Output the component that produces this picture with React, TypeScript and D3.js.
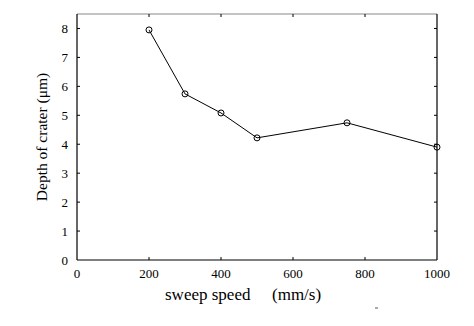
import React from "react";
import * as d3 from "d3";

const speeds = [200, 300, 400, 500, 750, 1000];
const depths = [7.95, 5.74, 5.08, 4.22, 4.74, 3.9];
const xTicks = [0, 200, 400, 600, 800, 1000];
const yTicks = [0, 1, 2, 3, 4, 5, 6, 7, 8];

const W = 474, H = 326;
const L = 77, R = 437, T = 14, B = 260;

export default function App() {
  const x = d3.scaleLinear().domain([0, 1000]).range([L, R]);
  const y = d3.scaleLinear().domain([0, 8.5]).range([B, T]);
  const line = d3.line<number>().x((_, i) => x(speeds[i])).y((d) => y(d));
  const fs = { fontFamily: "Liberation Serif, serif" };
  return (
    <svg width={W} height={H} style={{ position: "absolute", left: 0, top: 0, background: "#fff" }}>
      <rect x={0} y={0} width={W} height={H} fill="#fff" />
      <line x1={L} y1={T} x2={R} y2={T} stroke="#888" strokeWidth={1} />
      <line x1={R} y1={T} x2={R} y2={B} stroke="#000" strokeWidth={1.2} />
      <line x1={L} y1={T} x2={L} y2={B} stroke="#000" strokeWidth={1.2} />
      <line x1={L} y1={B} x2={R} y2={B} stroke="#000" strokeWidth={1.2} />
      {xTicks.map((t) => (
        <g key={"x" + t}>
          {t > 0 && t < 1000 && (
            <>
              <line x1={x(t)} x2={x(t)} y1={B} y2={B - 3} stroke="#000" />
              <line x1={x(t)} x2={x(t)} y1={T} y2={T + 3} stroke="#000" />
            </>
          )}
          <text x={x(t)} y={B + 18} textAnchor="middle" style={fs} fontSize={13} fill="#000">
            {t}
          </text>
        </g>
      ))}
      {yTicks.map((t) => (
        <g key={"y" + t}>
          {t > 0 && (
            <>
              <line x1={L} x2={L + 3} y1={y(t)} y2={y(t)} stroke="#000" />
              <line x1={R} x2={R - 3} y1={y(t)} y2={y(t)} stroke="#000" />
            </>
          )}
          <text x={L - 9} y={y(t) + 4.5} textAnchor="end" style={fs} fontSize={13} fill="#000">
            {t}
          </text>
        </g>
      ))}
      <path d={line(depths) || ""} fill="none" stroke="#000" strokeWidth={1} />
      {depths.map((d, i) => (
        <circle key={i} cx={x(speeds[i])} cy={y(d)} r={3} fill="none" stroke="#000" strokeWidth={1} />
      ))}
      <text x={165} y={300} style={fs} fontSize={17} fill="#000">
        sweep speed
      </text>
      <text x={272} y={300} style={fs} fontSize={17} fill="#000">
        (mm/s)
      </text>
      <text
        transform={`translate(47,137) rotate(-90)`}
        textAnchor="middle"
        style={fs}
        fontSize={15.5}
        fill="#000"
      >
        Depth of crater (μm)
      </text>
      <line x1={375} x2={378} y1={308} y2={308} stroke="#555" strokeWidth={1} />
    </svg>
  );
}
